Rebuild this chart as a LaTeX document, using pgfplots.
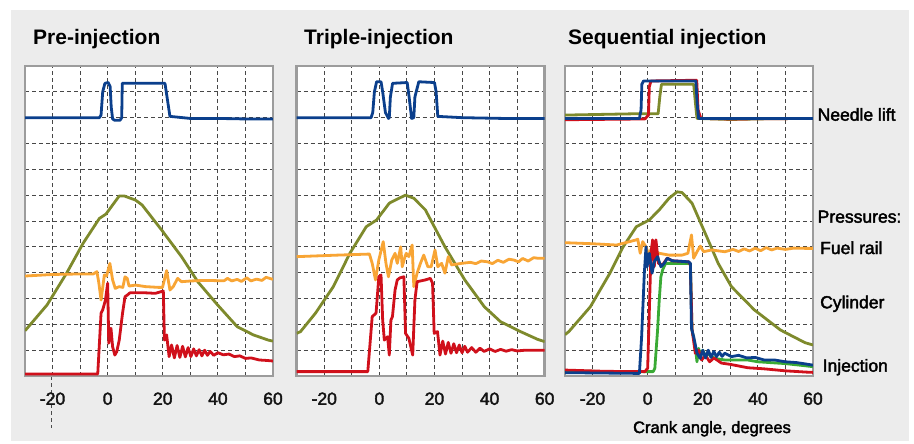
\documentclass[border=0pt]{standalone}
\usepackage{pgfplots}
\pgfplotsset{compat=1.18}
\usepackage{fontspec}
\setmainfont{Liberation Sans}
\newfontfamily\medfont[FakeBold=2.2]{Liberation Sans}
\definecolor{nblue}{HTML}{0B3F8C}
\definecolor{ired}{HTML}{D0101B}
\definecolor{forange}{HTML}{F8A535}
\definecolor{colive}{HTML}{7E8A2C}
\definecolor{igreen}{HTML}{3AAA35}
\definecolor{framec}{HTML}{9C9C9C}
\definecolor{bgc}{HTML}{ECECEC}
\pgfplotsset{panel/.style={
 anchor=south west, scale only axis, width=248pt, height=310pt,
 xmin=-30,xmax=60,ymin=0,ymax=12,
 xtick={-20,0,20,40,60}, xticklabels={-20,0,20,40,60},
 minor xtick={-10,10,30,50},
 ytick={1,...,11}, yticklabels={},
 grid=both,
 major grid style={black!72, line width=0.9pt, dash pattern=on 4pt off 3pt},
 minor grid style={black!72, line width=0.9pt, dash pattern=on 4pt off 3pt},
 major tick length=0pt, minor tick length=0pt,
 axis line style={framec, line width=2.6pt},
 axis background/.style={fill=white},
 xticklabel style={font=\medfont\fontsize{17.5}{20}\selectfont, text=black!92, yshift=-13pt},
 every axis plot/.append style={line width=2.8pt, line join=round},
}}
\begin{document}
\begin{tikzpicture}
\path[use as bounding box] (0,0) rectangle (914pt,-444pt);
\fill[white] (0,0) rectangle (914pt,-444pt);
\fill[bgc] (11pt,-10pt) rectangle (909pt,-441pt);
\draw[black!70, line width=0.9pt, dash pattern=on 4pt off 3pt] (51.7pt,-376pt) -- (51.7pt,-428pt);

% Panel 1
\begin{axis}[panel, at={(25pt,-376pt)}]
\addplot[nblue] coordinates {(-30,10) (-3.0,10) (-2.4,10.1) (-1.8,11.0) (-1.0,11.33) (0.2,11.36) (0.9,11.2) (1.3,10.4) (1.8,9.95) (2.5,9.9) (4.5,9.9) (5.1,10.0) (5.3,11.33) (20.8,11.33) (22.6,10.05) (30,9.97) (40,9.97) (50,9.95) (60,9.95)};
\addplot[colive] coordinates {(-30,1.75) (-22,2.75) (-14.9,3.98) (-8.9,5.14) (-3.0,6.1) (-0.6,6.27) (1.8,6.62) (4.2,6.97) (6.0,6.97) (10.1,6.81) (12.5,6.62) (19.6,5.65) (26.8,4.62) (32.7,3.65) (39.9,2.75) (47.0,1.91) (52.9,1.59) (58.3,1.39) (60,1.35)};
\addplot[forange] coordinates {(-30,3.87) (-20,3.93) (-10,3.95) (-5.2,3.95) (-3.9,4.04) (-3.2,3.6) (-2.4,2.94) (-1.2,3.91) (-0.4,3.87) (0.8,4.36) (1.8,3.72) (2.75,3.39) (4.2,3.46) (5.5,3.43) (6.3,3.84) (7.1,3.78) (7.75,3.48) (10.1,3.52) (13.7,3.46) (18.5,3.43) (19.9,3.43) (21.4,4.08) (22.6,3.33) (23.8,3.46) (25.4,3.78) (26.8,3.65) (30.4,3.68) (35,3.70) (40,3.69) (42.3,3.69) (43.5,3.78) (45,3.68) (47,3.74) (48.5,3.66) (50.5,3.8) (52,3.68) (54,3.75) (56,3.7) (57.5,3.82) (60,3.74)};
\addplot[ired] coordinates {(-30,0.08) (-3.6,0.08) (-2.4,2.43) (-1.8,2.56) (-0.8,2.94) (0,3.59) (0.4,1.27) (1.2,1.85) (1.8,1.13) (2.6,0.81) (3.3,0.94) (4.2,1.39) (4.8,1.91) (5.4,2.43) (6.3,3.07) (7.1,3.13) (8.1,3.22) (13.7,3.22) (17.3,3.20) (20.2,3.29) (20.6,1.39) (21.4,1.59) (22.3,0.75) (23.2,1.2) (24.2,0.7) (25.2,1.18) (26.2,0.72) (27.2,1.15) (28.2,0.74) (29.2,1.1) (30.2,0.75) (31.2,1.05) (32.2,0.78) (33.2,1.02) (34.2,0.78) (35.2,1.0) (36.2,0.8) (37.2,0.95) (38.5,0.8) (40,0.9) (42,0.82) (44,0.85) (46,0.75) (48,0.78) (50,0.68) (52,0.7) (55,0.62) (58,0.6) (60,0.58)};
\end{axis}

% Panel 2
\begin{axis}[panel, at={(296.7pt,-376pt)}]
\addplot[nblue] coordinates {(-30,10) (-3.0,10) (-2.4,10.2) (-1.8,11.0) (-1.0,11.39) (0.6,11.39) (1.2,11.0) (2.2,10.2) (3.3,9.97) (3.6,10.0) (4.0,10.8) (4.8,11.33) (10.1,11.36) (10.8,10.8) (11.7,9.97) (12.5,10.0) (12.9,10.8) (14.3,11.39) (20.0,11.36) (20.6,11.0) (21.2,10.05) (30,10.0) (45,9.97) (60,9.97)};
\addplot[colive] coordinates {(-30,1.65) (-28.6,1.72) (-23.2,2.43) (-16.7,3.46) (-10.7,4.75) (-4.75,5.78) (-1,6.04) (3.6,6.69) (7.1,6.88) (9.5,7.0) (12.5,6.88) (16.7,6.43) (23.8,5.0) (31,3.72) (38.1,2.68) (44,2.1) (51.2,1.72) (57.4,1.42) (60,1.33)};
\addplot[forange] coordinates {(-30,4.62) (-15,4.68) (-3.6,4.72) (-2.6,4.36) (-1.4,3.72) (-0.2,4.49) (1.4,5.2) (2.4,4.36) (3.3,3.84) (4.5,4.49) (5.7,4.75) (6.5,4.36) (7.75,5.0) (8.3,4.23) (9.3,4.62) (9.75,4.75) (10.7,4.62) (11.9,5.07) (12.5,3.46) (13.7,3.98) (14.9,4.36) (16.1,4.68) (17.6,4.23) (18.8,4.23) (20.2,4.88) (21.2,4.23) (22.6,4.36) (23.8,3.98) (25,4.62) (26.2,4.30) (29.8,4.36) (33,4.4) (35,4.35) (37,4.45) (39.3,4.42) (41,4.35) (43,4.48) (45,4.4) (47,4.52) (48.8,4.49) (50.5,4.42) (52,4.55) (54,4.45) (56,4.58) (57.4,4.56) (60,4.56)};
\addplot[ired] coordinates {(-30,0.17) (-4.2,0.17) (-2.6,2.30) (-1.2,2.43) (-0.2,3.84) (0.6,3.91) (1.2,2.17) (1.8,1.39) (3,1.52) (3.6,0.81) (4.2,2.17) (4.75,2.30) (5.7,3.33) (6.5,3.72) (7.5,3.8) (8.9,3.84) (9.5,1.65) (10.7,1.46) (12.1,0.81) (12.9,2.94) (13.7,3.65) (16.7,3.72) (18.5,3.78) (19.3,3.59) (19.9,1.65) (21.1,1.72) (22,0.81) (23,1.35) (24,0.85) (25,1.3) (26,0.88) (27,1.25) (28,0.9) (29,1.2) (30,0.9) (31,1.15) (32,0.92) (33.5,1.1) (35,0.92) (36.5,1.08) (38,0.95) (40,1.05) (42,0.95) (44,1.03) (46,0.96) (48,1.02) (50,0.97) (53,1.0) (57.4,1.0) (60,1.0)};
\end{axis}

% Panel 3
\begin{axis}[panel, at={(565pt,-376pt)}]
\addplot[colive] coordinates {(-30,10.1) (-20,10.12) (-5,10.15) (3.8,10.15) (4.4,10.8) (5.0,11.29) (16.7,11.29) (17.4,10.5) (17.9,9.97) (30,9.93) (45,9.96) (60,9.97)};
\addplot[ired] coordinates {(-30,9.92) (-1,9.95) (0.3,10.1) (0.6,11.2) (1.2,11.42) (17.8,11.45) (18.3,10.3) (19.3,9.97) (30,9.95) (60,9.97)};
\addplot[nblue] coordinates {(-30,9.97) (-3,9.97) (-2.4,10.3) (-2.1,11.3) (-1.5,11.42) (17.5,11.42) (18.0,10.5) (18.5,9.97) (30,9.97) (45,9.97) (60,9.97)};
\addplot[colive] coordinates {(-30,1.6) (-28.6,1.72) (-20.8,2.68) (-13.7,3.98) (-8.9,5.0) (-4.1,5.78) (0.6,6.04) (4.2,6.43) (7.75,6.88) (10.7,7.13) (12.5,7.1) (16.1,6.69) (20.9,5.52) (25.6,4.36) (30.4,3.46) (38.7,2.56) (48.2,1.78) (57.1,1.29) (60,1.2)};
\addplot[forange] coordinates {(-30,5.16) (-20,5.12) (-11.3,5.07) (-4.1,5.27) (-3.6,5.3) (-2.7,4.75) (-1.8,5.2) (-0.6,5.0) (0.4,4.68) (1.8,5.07) (2.75,4.81) (4.2,4.75) (7.75,4.68) (12.5,4.68) (14.6,4.75) (15.9,5.46) (16.7,4.56) (17.9,4.81) (19.1,5.03) (20.3,4.81) (23.2,4.88) (28,4.81) (31,4.9) (33,4.82) (35,4.92) (37,4.84) (39,4.95) (41,4.85) (43,4.97) (45,4.88) (47,4.95) (50,4.9) (53,4.95) (57.5,4.94) (60,4.94)};
\addplot[igreen] coordinates {(-30,0.2) (-15,0.17) (2.0,0.17) (2.6,0.3) (3.6,1.78) (4.2,2.94) (4.8,3.84) (5.4,4.1) (6.5,4.36) (15.5,4.36) (16.1,1.78) (17.3,1.13) (17.9,0.55) (18.5,1.07) (19.1,0.8) (20,1.0) (21,0.75) (22,0.85) (24.4,0.68) (28,0.62) (36.3,0.62) (40,0.55) (50,0.48) (57.7,0.39) (60,0.36)};
\addplot[ired] coordinates {(-30,0.23) (-15,0.18) (-1,0.17) (0,0.3) (0.6,2.5) (1.2,4.75) (1.8,5.27) (2.4,4.23) (3,5.27) (3.9,4.36) (5.4,4.30) (7.1,4.56) (8.9,4.46) (14.9,4.42) (15.5,4.3) (16.1,1.8) (17.3,0.88) (18.5,1.0) (19.6,0.62) (21,0.8) (22.5,0.55) (24,0.7) (26.8,0.5) (30,0.45) (36.3,0.32) (42,0.28) (50,0.2) (57.7,0.15) (60,0.14)};
\addplot[nblue] coordinates {(-30,0.13) (-3,0.1) (-2.2,1.5) (-1.2,4.0) (-0.6,5.0) (-0.2,4.23) (0.6,4.75) (1.6,3.98) (2.4,4.42) (3.6,4.62) (4.8,4.23) (6,4.36) (7.1,4.56) (8.9,4.46) (14.9,4.42) (15.5,4.36) (15.9,1.85) (16.7,1.52) (17.9,0.88) (19.1,0.68) (20,1.0) (21,0.7) (22,1.0) (23,0.72) (24,0.95) (25,0.75) (26,0.92) (27,0.76) (28,0.88) (30.4,0.75) (33,0.8) (36,0.7) (39,0.72) (42.3,0.62) (46,0.62) (50,0.55) (54,0.52) (57.7,0.46) (60,0.42)};
\end{axis}

\begin{scope}[every node/.style={anchor=base west, inner sep=0pt, font=\fontsize{21}{25}\selectfont\bfseries}]
\node at (33pt,-45pt) {Pre-injection};
\node at (304pt,-45pt) {Triple-injection};
\node at (568pt,-45pt) {Sequential injection};
\end{scope}

\begin{scope}[every node/.style={anchor=base west, inner sep=0pt, font=\medfont\fontsize{17.5}{20}\selectfont}]
\node at (817.5pt,-120.7pt) {Needle lift};
\node at (817.5pt,-222.7pt) {Pressures:};
\node at (820pt,-254pt) {Fuel rail};
\node at (820pt,-308.3pt) {Cylinder};
\node at (822.5pt,-371.7pt) {Injection};
\end{scope}
\node[anchor=base, inner sep=0pt, font=\medfont\fontsize{16.5}{19}\selectfont] at (712pt,-433pt) {Crank angle, degrees};
\end{tikzpicture}
\end{document}
